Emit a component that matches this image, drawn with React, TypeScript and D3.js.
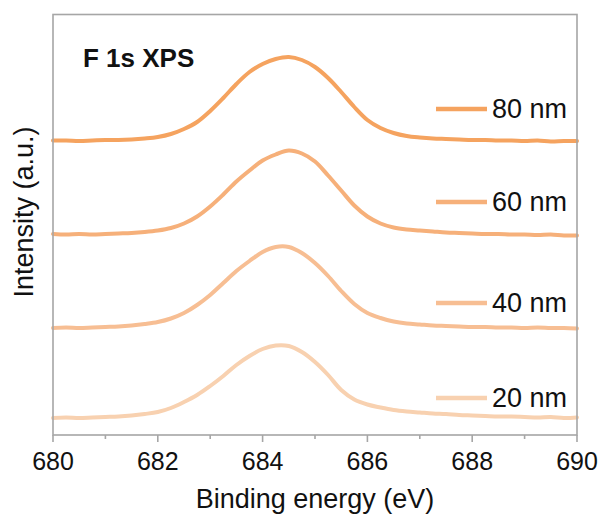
import React from "react";
import * as d3 from "d3";

// Binding energy grid (eV)
const energies = [
  680, 680.25, 680.5, 680.75, 681, 681.25, 681.5, 681.75, 682, 682.25, 682.5,
  682.75, 683, 683.25, 683.5, 683.75, 684, 684.25, 684.5, 684.75, 685, 685.25,
  685.5, 685.75, 686, 686.25, 686.5, 686.75, 687, 687.25, 687.5, 687.75, 688,
  688.25, 688.5, 688.75, 689, 689.25, 689.5, 689.75, 690,
];

// Background-subtracted F 1s intensity (a.u.) for each film thickness
const int20 = [
  0, 0.5, 0, 0.5, 1, 1.5, 2.5, 4, 6, 10, 16, 23, 32, 42, 53, 62, 69, 72.5, 72,
  66, 56, 43, 28, 18.5, 13.5, 10.5, 8, 6.5, 5.5, 4.5, 4, 3, 2.5, 2, 1.5, 1.5,
  1, 0.5, 1, 0, 0.5,
];
const int40 = [
  0, 0.5, 0, 0.5, 1, 1.5, 2.5, 4, 6, 9.5, 15, 23, 33, 45, 57, 67, 76, 81, 81,
  75, 65, 52, 37, 24, 15, 10, 6.5, 4.5, 3.5, 2.5, 2, 1.5, 1, 1, 0.5, 0.5, 0,
  0.5, 0, 0, -0.5,
];
const int60 = [
  0.5, 0, 0.5, 0, 0.5, 1, 1.5, 2.5, 4, 6.5, 11, 18, 28, 40, 53, 64, 74, 80, 84,
  81, 73, 59, 44, 29, 18, 11, 7, 5, 4, 3, 2, 1.5, 1, 0.5, 0.5, 0, 0, -0.5, 0,
  -1, -1,
];
const int80 = [
  0.5, 0.5, 0, 0.5, 1, 1, 1.5, 2.5, 4, 7, 12, 19, 30, 43, 57, 69, 77, 82, 84,
  81, 74, 63, 49, 34, 21, 13, 8, 5, 3.5, 2.5, 2, 1.5, 1, 1, 0.5, 0.5, 0, 0.5,
  -0.5, 0, 0,
];

const labels = ["20 nm", "40 nm", "60 nm", "80 nm"];
const spectra = [int20, int40, int60, int80];
// vertical stacking offsets (a.u.)
const stackOffsets = [17, 107, 200.5, 294];
const colors = ["#F8D1B0", "#F7BE93", "#F6B07A", "#F5A35F"];

const xTicks = [680, 682, 684, 686, 688, 690];
const xMinorTicks = [681, 683, 685, 687, 689];

const W = 603;
const H = 522;
const plot = { left: 53, right: 577, top: 14.5, bottom: 435 };
const FONT = "'Liberation Sans', Arial, Helvetica, sans-serif";
// legend row heights, from the top entry down
const legendRowY = [109, 202, 303, 398];

export default function App() {
  const x = d3.scaleLinear().domain([680, 690]).range([plot.left, plot.right]);
  const y = d3
    .scaleLinear()
    .domain([0, 420.5])
    .range([plot.bottom, plot.top]);

  const line = d3
    .line<[number, number]>()
    .x((d) => x(d[0]))
    .y((d) => y(d[1]))
    .curve(d3.curveCatmullRom.alpha(0.5));

  // legend rows, top entry is the thickest film
  const legendRows = [3, 2, 1, 0].map((i, k) => ({ i, y: legendRowY[k] }));

  return (
    <svg
      width={W}
      height={H}
      style={{ position: "absolute", left: 0, top: 0, background: "#fff" }}
      fontFamily={FONT}
    >
      <rect x={0} y={0} width={W} height={H} fill="#fff" />

      {/* spectra */}
      <g fill="none" strokeWidth={4} strokeLinejoin="round" strokeLinecap="round">
        {spectra.map((vals, i) => (
          <path
            key={labels[i]}
            d={
              line(
                energies.map((e, j) => [e, vals[j] + stackOffsets[i]] as [number, number])
              ) || ""
            }
            stroke={colors[i]}
          />
        ))}
      </g>

      {/* frame */}
      <rect
        x={plot.left}
        y={plot.top}
        width={plot.right - plot.left}
        height={plot.bottom - plot.top}
        fill="none"
        stroke="#a6a6a6"
        strokeWidth={1.6}
      />

      {/* x ticks */}
      <g stroke="#a6a6a6" strokeWidth={1.6}>
        {xTicks.map((t) => (
          <line key={t} x1={x(t)} x2={x(t)} y1={plot.bottom} y2={plot.bottom + 7} />
        ))}
        {xMinorTicks.map((t) => (
          <line key={t} x1={x(t)} x2={x(t)} y1={plot.bottom} y2={plot.bottom + 4} />
        ))}
      </g>
      <g fontSize={25} fill="#111" textAnchor="middle">
        {xTicks.map((t) => (
          <text key={t} x={x(t)} y={470}>
            {t}
          </text>
        ))}
      </g>

      {/* axis titles */}
      <text
        x={(plot.left + plot.right) / 2}
        y={508}
        fontSize={27}
        textAnchor="middle"
        fill="#111"
      >
        Binding energy (eV)
      </text>
      <text
        transform={`translate(33,212) rotate(-90)`}
        fontSize={27}
        textAnchor="middle"
        fill="#111"
      >
        Intensity (a.u.)
      </text>

      {/* panel title */}
      <text x={83} y={67} fontSize={26} fontWeight="bold" fill="#111">
        F 1s XPS
      </text>

      {/* legend */}
      {legendRows.map(({ i, y: ly }) => (
        <g key={labels[i]}>
          <line
            x1={436}
            x2={487}
            y1={ly}
            y2={ly}
            stroke={colors[i]}
            strokeWidth={4.5}
          />
          <text x={492} y={ly + 9} fontSize={27} fill="#111">
            {labels[i]}
          </text>
        </g>
      ))}
    </svg>
  );
}
